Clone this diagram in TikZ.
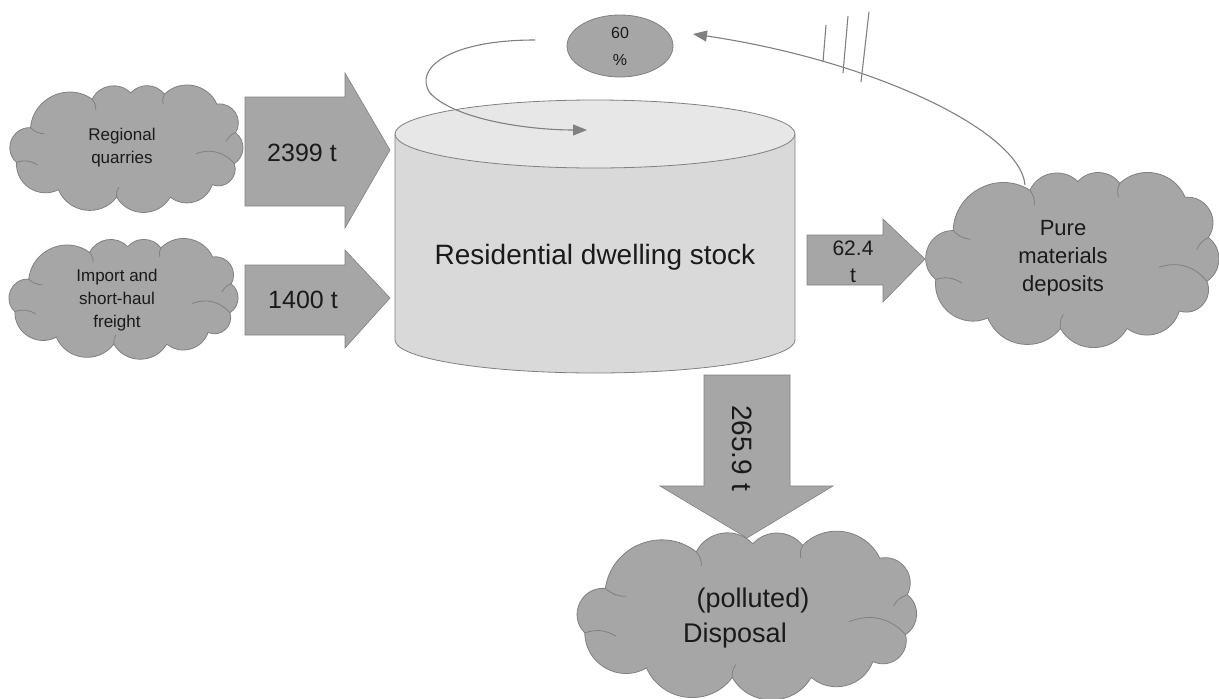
\documentclass[tikz,border=0pt]{standalone}
\usepackage{fontspec}
\setmainfont{Liberation Sans}
\usetikzlibrary{shapes.geometric,arrows.meta}
\definecolor{shade}{HTML}{A6A6A6}
\definecolor{edge}{HTML}{808080}
\definecolor{drum}{HTML}{D9D9D9}
\definecolor{drumtop}{HTML}{E7E7E7}
\definecolor{ink}{HTML}{1A1A1A}
\newcommand{\fs}[2]{\fontsize{#1}{#2}\selectfont}
\tikzset{
  cloudline/.style={fill=shade, draw=edge, line width=0.8pt},
  cloudinner/.style={draw=edge, line width=0.8pt},
  l50/.style={bend left=50, looseness=1.04},
  l55/.style={bend left=55, looseness=1.08},
  l60/.style={bend left=60, looseness=1.13},
  l65/.style={bend left=65, looseness=1.2},
  l70/.style={bend left=70, looseness=1.27},
  flow/.style={fill=shade, draw=edge, line width=0.6pt},
  lbl/.style={text=ink, align=center, inner sep=0pt},
  conn/.style={draw=edge, line width=1.1pt, -{Triangle[length=14pt,width=11pt]}},
  tick/.style={draw=edge, line width=1.1pt},
  rim/.style={draw=edge, line width=0.8pt}
}
% puffy cloud in a box: centre (#1,#2), width #3, height #4
\newcommand{\puffcloud}[4]{%
  \begin{scope}[shift={(#1-#3/2,#2-#4/2)}, x=#3pt, y=-#4pt]
    \draw[cloudline] (0.03,0.60) to[l70] (0.09,0.32) to[l60] (0.355,0.09)
      to[l55] (0.52,0.04) to[l50] (0.665,0.05) to[l55] (0.89,0.13)
      to[l65] (0.97,0.36) to[l55] (0.965,0.61) to[l65] (0.87,0.78)
      to[l55] (0.69,0.88) to[l60] (0.46,0.88) to[l60] (0.21,0.82)
      to[l60] (0.03,0.60) -- cycle;
    \draw[cloudinner] (0.03,0.60) to[bend left=25] (0.12,0.62);
    \draw[cloudinner] (0.09,0.32) to[bend right=20] (0.15,0.37);
    \draw[cloudinner] (0.355,0.09) to[bend left=20] (0.37,0.18);
    \draw[cloudinner] (0.665,0.05) to[bend right=20] (0.66,0.13);
    \draw[cloudinner] (0.97,0.36) to[bend right=20] (0.93,0.43);
    \draw[cloudinner] (0.965,0.61) to[bend right=35] (0.80,0.53);
    \draw[cloudinner] (0.46,0.88) to[bend left=20] (0.47,0.80);
  \end{scope}}
\begin{document}
\begin{tikzpicture}[x=1pt,y=-1pt]
\useasboundingbox (0,0) rectangle (1219,699);

% source and sink clouds
\puffcloud{126}{150}{233}{124}
\node[lbl, font=\fs{17}{23}] (quarry) at (122,148) {Regional\\quarries};
\puffcloud{123}{300}{230}{116}
\node[lbl, font=\fs{17}{23}] (import) at (117,300) {Import and\\short-haul\\freight};
\puffcloud{1072}{262}{290}{175}
\node[lbl, font=\fs{22}{28}] (pure) at (1063,258) {Pure\\materials\\deposits};
\puffcloud{746}{617}{343}{159}
\node[lbl, font=\fs{27}{33}] (disp1) at (753,601) {(polluted)};
\node[lbl, font=\fs{27}{33}] (disp2) at (735,636) {Disposal};

% dwelling stock drum
\path[fill=drum] (395,134) -- (395,340)
  arc[start angle=180, end angle=360, x radius=200pt, y radius=33pt] -- (795,134) -- cycle;
\draw[rim] (395,134) -- (395,340)
  arc[start angle=180, end angle=360, x radius=200pt, y radius=33pt] -- (795,134);
\draw[rim, fill=drumtop] (595,134) ellipse[x radius=200pt, y radius=34pt];
\node[lbl, font=\fs{28}{34}] (stock) at (595,257) {Residential dwelling stock};

% recycling share
\node[ellipse, fill=shade, draw=edge, line width=0.8pt, minimum width=106pt,
  minimum height=62pt, inner sep=0pt] (share) at (620,46) {};
\node[lbl, font=\fs{16}{20}] (shareA) at (620,33) {60};
\node[lbl, font=\fs{16}{20}] (shareB) at (620,60) {\%};

% block arrows for the mass flows
\path[flow] (245,97) -- (345,97) -- (345,73) -- (390,150) -- (345,228)
  -- (345,206) -- (245,206) -- cycle;
\node[lbl, font=\fs{25}{30}] (f1) at (302,153) {2399 t};

\path[flow] (245,265) -- (345,265) -- (345,250) -- (390,298) -- (345,348)
  -- (345,335) -- (245,335) -- cycle;
\node[lbl, font=\fs{25}{30}] (f2) at (303,300) {1400 t};

\path[flow] (807,235) -- (883,235) -- (883,219) -- (925,259) -- (883,302)
  -- (883,285) -- (807,285) -- cycle;
\node[lbl, font=\fs{21}{27}] (f3) at (853,262) {62.4\\t};

\path[flow] (704,375) -- (790,375) -- (790,486) -- (833,486) -- (747,538)
  -- (660,486) -- (704,486) -- cycle;
\node[lbl, rotate=-90, font=\fs{28}{30}] (f4) at (742,448) {265.9 t};

% recycling loops
\coordinate (loopStart) at (535,40);
\coordinate (loopEnd) at (587,130);
\draw[conn] (loopStart) .. controls (450,40) and (413,68) .. (430,93)
  .. controls (455,120) and (530,130) .. (loopEnd);

\coordinate (retStart) at (1025,185);
\coordinate (retEnd) at (693,34);
\draw[conn] (retStart) .. controls (1020,130) and (870,60) .. (retEnd);
\draw[tick] (826,25) -- (823,62);
\draw[tick] (848,16) -- (843,73);
\draw[tick] (869,12) -- (861,82);
\end{tikzpicture}
\end{document}
